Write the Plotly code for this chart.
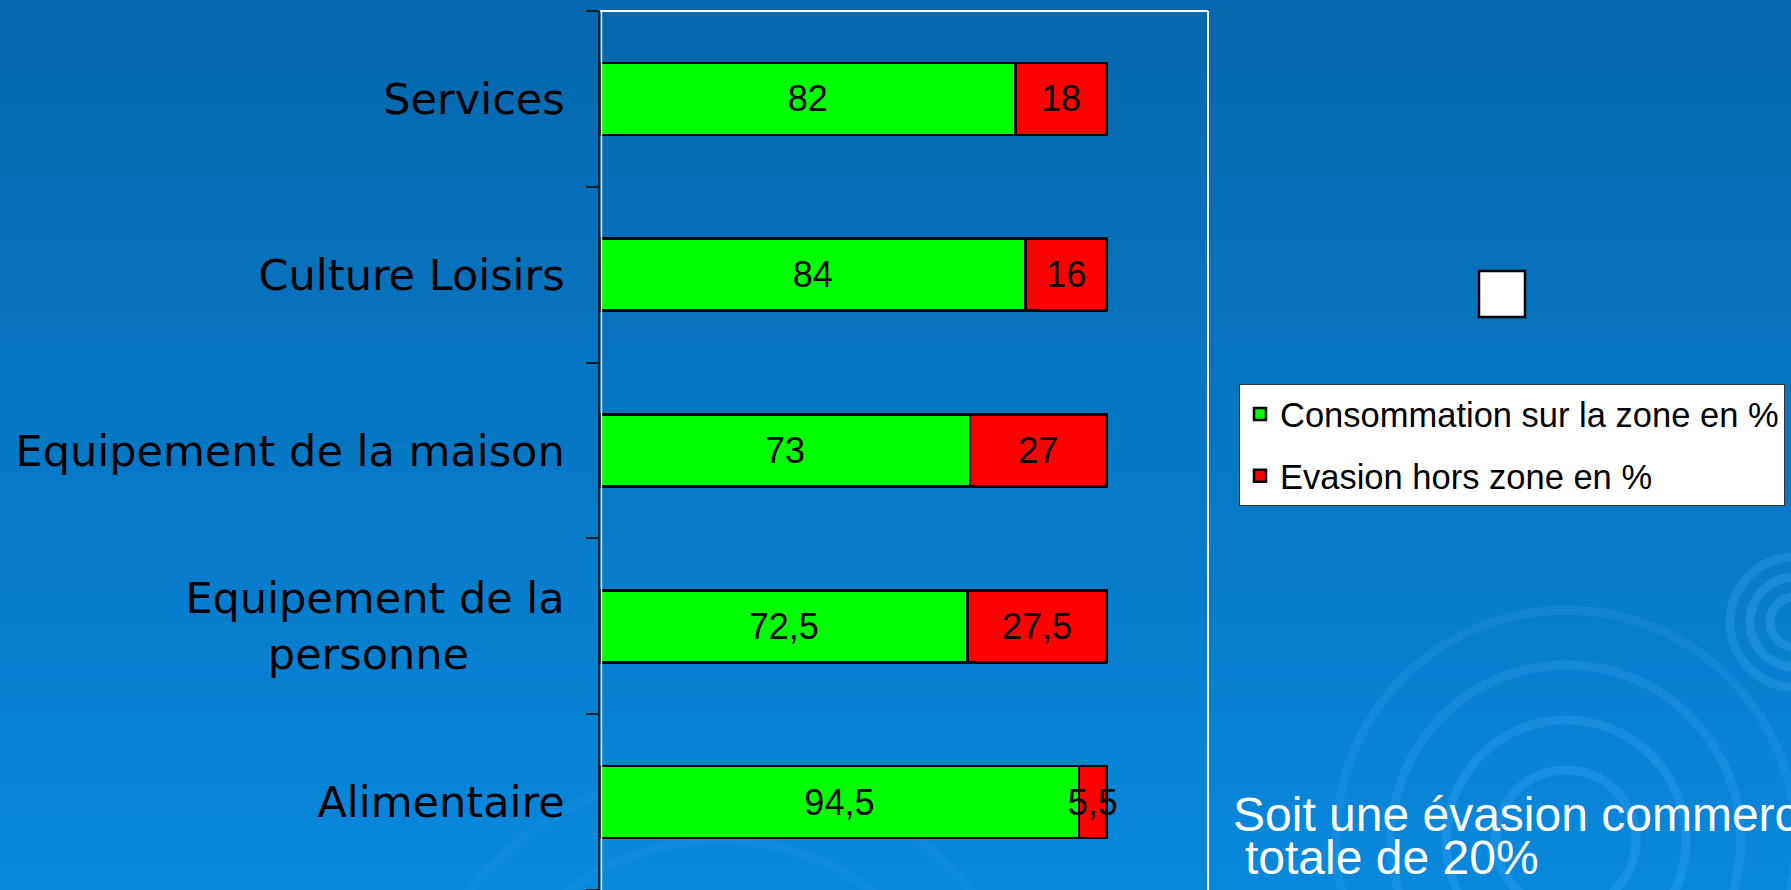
import plotly.graph_objects as go

# ---- data ----
categories = ["Services", "Culture Loisirs", "Equipement de la maison",
              "Equipement de la personne", "Alimentaire"]
tick_text = ["Services", "Culture Loisirs", "Equipement de la maison",
             "Equipement de la<br>personne" + "\u00a0" * 7, "Alimentaire"]
consommation = [82, 84, 73, 72.5, 94.5]
evasion = [18, 16, 27, 27.5, 5.5]
series_names = ["Consommation sur la zone en %", "Evasion hors zone en %"]
series_colors = ["#00FF00", "#FF0000"]

W, H = 1791, 890
ML, MR, MT, MB = 600, 1791 - 1208, 11, 0
PW, PH = W - ML - MR, H - MT - MB


def px_x(px):
    return (px - ML) / PW


def px_y(py):
    return (H - MB - py) / PH


def fmt(v):
    s = ("%g" % v)
    return s.replace(".", ",")


fig = go.Figure()
for name, vals, col in zip(series_names, [consommation, evasion], series_colors):
    fig.add_trace(go.Bar(
        y=categories, x=vals, orientation="h", name=name,
        legendgroup=name,
        marker=dict(color=col, line=dict(color="#000000", width=2.5)),
        text=[fmt(v) for v in vals], textposition="inside",
        insidetextanchor="middle", textangle=0, constraintext="none",
        textfont=dict(family="Liberation Sans, Arial", size=36, color="#000000"),
        hoverinfo="skip",
    ))

shapes = []
# background gradient
n = 60
top = (6, 103, 172)
bot = (8, 136, 220)
for i in range(n):
    t = i / (n - 1)
    c = tuple(round(top[k] + (bot[k] - top[k]) * t) for k in range(3))
    y0 = i * H / n
    y1 = (i + 1) * H / n + 1
    shapes.append(dict(type="rect", xref="paper", yref="paper", layer="below",
                       x0=px_x(-2), x1=px_x(W + 2), y0=px_y(y1), y1=px_y(y0 - (2 if i == 0 else 0)),
                       line=dict(width=0), fillcolor="rgb(%d,%d,%d)" % c))
# faint swirl decorations
for (cx, cy, r, op) in [(1566, 840, 70, 0.3), (1566, 840, 120, 0.3), (1566, 840, 175, 0.25),
                        (1566, 840, 230, 0.2), (1795, 622, 25, 0.35), (1795, 622, 45, 0.35),
                        (1795, 622, 65, 0.3), (720, 1090, 250, 0.12), (720, 1090, 320, 0.1)]:
    shapes.append(dict(type="circle", xref="paper", yref="paper", layer="below",
                       x0=px_x(cx - r), x1=px_x(cx + r), y0=px_y(cy + r), y1=px_y(cy - r),
                       line=dict(color="rgba(60,165,245,%.2f)" % op, width=9),
                       fillcolor="rgba(0,0,0,0)"))
# plot frame
shapes.append(dict(type="line", xref="paper", yref="paper", x0=0, x1=1, y0=1, y1=1,
                   line=dict(color="#FFFFFF", width=2)))
shapes.append(dict(type="line", xref="paper", yref="paper", x0=1, x1=1, y0=0, y1=1,
                   line=dict(color="#FFFFFF", width=2)))
shapes.append(dict(type="line", xref="paper", yref="paper", x0=px_x(601.5), x1=px_x(601.5), y0=0, y1=1,
                   line=dict(color="#D8E0E8", width=1.5)))
# small white box
shapes.append(dict(type="rect", xref="paper", yref="paper",
                   x0=px_x(1479), x1=px_x(1525), y0=px_y(317), y1=px_y(271),
                   line=dict(color="#000000", width=2.5), fillcolor="#FFFFFF"))

annotations = [
    dict(text="Soit une évasion commerciale", xref="paper", yref="paper",
         x=px_x(1231), y=px_y(814), xanchor="left", yanchor="middle", showarrow=False,
         font=dict(family="Liberation Sans, Arial", size=48, color="#FFFFFF")),
    dict(text="totale de 20%", xref="paper", yref="paper",
         x=px_x(1243), y=px_y(857), xanchor="left", yanchor="middle", showarrow=False,
         font=dict(family="Liberation Sans, Arial", size=48, color="#FFFFFF")),
]

fig.update_layout(
    width=W, height=H,
    margin=dict(l=ML, r=MR, t=MT, b=MB, pad=0, autoexpand=False),
    barmode="stack", bargap=0.59,
    paper_bgcolor="#0668AC", plot_bgcolor="rgba(0,0,0,0)",
    showlegend=True,
    legend=dict(x=px_x(1239), y=px_y(384), xanchor="left", yanchor="top",
                bgcolor="#FFFFFF", bordercolor="#333333", borderwidth=1,
                font=dict(family="Liberation Sans, Arial", size=34.5, color="#000000"),
                traceorder="grouped", tracegroupgap=14, itemwidth=30),
    xaxis=dict(range=[0, 120], visible=False, showgrid=False, zeroline=False),
    yaxis=dict(autorange=False, range=[4.5, -0.5], type="category",
               categoryorder="array", categoryarray=categories,
               tickmode="array", tickvals=categories, ticktext=tick_text,
               ticks="outside", tickson="boundaries", ticklen=12, tickwidth=1.5,
               tickcolor="#15202A", showline=True, linecolor="#15202A", linewidth=1.5,
               showgrid=False, zeroline=False, ticklabelstandoff=25,
               tickfont=dict(family="DejaVu Sans", size=43, color="#000000")),
    shapes=shapes, annotations=annotations,
)

fig.write_html(
    "out.html",
    config={"displayModeBar": False},
    post_script="document.body.style.margin='0';document.body.style.padding='0';"
                "document.body.style.overflow='hidden';"
                "document.documentElement.style.overflow='hidden';",
)
